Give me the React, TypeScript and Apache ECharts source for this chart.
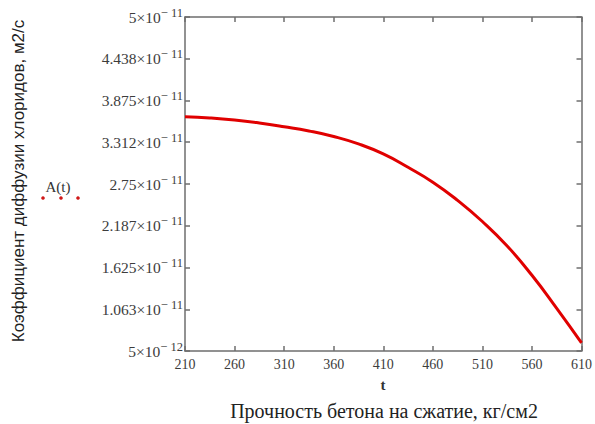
import React, { useEffect, useRef } from "react";
import * as echarts from "echarts";

// Compressive strength of concrete, kg/cm2
const strength = [210, 235, 260, 285, 310, 335, 360, 385, 410, 435, 460, 485, 510, 535, 560, 585, 610];
// Chloride diffusion coefficient A(t), m2/s
const diffusion = [
  3.657e-11, 3.64e-11, 3.612e-11, 3.572e-11, 3.522e-11, 3.465e-11, 3.39e-11, 3.29e-11, 3.155e-11,
  2.975e-11, 2.775e-11, 2.53e-11, 2.245e-11, 1.915e-11, 1.52e-11, 1.075e-11, 0.61e-11,
];

const xTicks = [210, 260, 310, 360, 410, 460, 510, 560, 610];
const yTicks = [5e-12, 1.0625e-11, 1.625e-11, 2.1875e-11, 2.75e-11, 3.3125e-11, 3.875e-11, 4.4375e-11, 5e-11];
const yTickMantissas = ["5", "1.063", "1.625", "2.187", "2.75", "3.312", "3.875", "4.438", "5"];
const yTickExponents = ["12", "11", "11", "11", "11", "11", "11", "11", "11"];

const FRAME = "#6e6e6e";
const LABEL = "#3c3c3c";
const SERIF = "'Liberation Serif', 'DejaVu Serif', serif";
const SANS = "'Liberation Sans', Arial, sans-serif";

function yLabel(v: number): string {
  let best = 0;
  for (let i = 1; i < yTicks.length; i++) {
    if (Math.abs(yTicks[i] - v) < Math.abs(yTicks[best] - v)) best = i;
  }
  return `{m|${yTickMantissas[best]}×10}{e|− ${yTickExponents[best]}}`;
}

export default function App() {
  const ref = useRef<HTMLDivElement>(null);

  useEffect(() => {
    if (!ref.current) return;
    const chart = echarts.init(ref.current, null, { renderer: "svg" });

    const tickStyle = { show: true, inside: true, length: 5, lineStyle: { color: FRAME, width: 1.5 } };
    const lineStyle = { color: FRAME, width: 1.5 };

    chart.setOption({
      animation: false,
      backgroundColor: "#ffffff",
      grid: { left: 185, right: 13, top: 17, bottom: 73 },
      xAxis: [
        {
          type: "value",
          min: 210,
          max: 610,
          position: "bottom",
          axisLine: { show: true, onZero: false, lineStyle },
          axisTick: { ...tickStyle, customValues: xTicks },
          axisLabel: {
            customValues: xTicks,
            margin: 6,
            color: LABEL,
            fontFamily: SERIF,
            fontSize: 14,
          },
          splitLine: { show: false },
        },
        {
          type: "value",
          min: 210,
          max: 610,
          position: "top",
          axisLine: { show: true, onZero: false, lineStyle },
          axisTick: { ...tickStyle, customValues: xTicks },
          axisLabel: { show: false },
          splitLine: { show: false },
        },
      ],
      yAxis: [
        {
          type: "value",
          min: 5e-12,
          max: 5e-11,
          position: "left",
          axisLine: { show: true, onZero: false, lineStyle },
          axisTick: { ...tickStyle, customValues: yTicks },
          axisLabel: {
            customValues: yTicks,
            margin: 2,
            formatter: yLabel,
            rich: {
              m: { fontFamily: SERIF, fontSize: 15.5, color: LABEL },
              e: { fontFamily: SERIF, fontSize: 12.5, color: LABEL, padding: [0, 0, 9, 0] },
            },
          },
          splitLine: { show: false },
        },
        {
          type: "value",
          min: 5e-12,
          max: 5e-11,
          position: "right",
          axisLine: { show: true, onZero: false, lineStyle },
          axisTick: { ...tickStyle, customValues: yTicks },
          axisLabel: { show: false },
          splitLine: { show: false },
        },
      ],
      series: [
        {
          type: "line",
          xAxisIndex: 0,
          yAxisIndex: 0,
          data: strength.map((s, i) => [s, diffusion[i]]),
          smooth: 0.5,
          showSymbol: false,
          lineStyle: { color: "#e00000", width: 3 },
        },
      ],
      graphic: [
        {
          type: "text",
          x: 18,
          y: 181,
          rotation: Math.PI / 2,
          style: {
            text: "Коэффициент диффузии хлоридов, м2/с",
            font: `17px ${SANS}`,
            fill: "#222",
            align: "center",
            verticalAlign: "middle",
          },
        },
        {
          type: "text",
          x: 58,
          y: 187,
          style: {
            text: "A(t)",
            font: `15px ${SERIF}`,
            fill: "#333",
            align: "center",
            verticalAlign: "middle",
          },
        },
        { type: "circle", shape: { cx: 43, cy: 198, r: 1.8 }, style: { fill: "#d01818" } },
        { type: "circle", shape: { cx: 61, cy: 198, r: 1.8 }, style: { fill: "#d01818" } },
        { type: "circle", shape: { cx: 78, cy: 198, r: 1.8 }, style: { fill: "#d01818" } },
        {
          type: "text",
          x: 383,
          y: 385,
          style: {
            text: "t",
            font: `bold 15px ${SERIF}`,
            fill: "#333",
            align: "center",
            verticalAlign: "middle",
          },
        },
        {
          type: "text",
          x: 384,
          y: 411,
          style: {
            text: "Прочность бетона на сжатие, кг/см2",
            font: `20px ${SERIF}`,
            fill: "#222",
            align: "center",
            verticalAlign: "middle",
          },
        },
      ],
    });

    return () => chart.dispose();
  }, []);

  return (
    <div
      ref={ref}
      style={{ position: "fixed", left: 0, top: 0, width: 595, height: 424, background: "#fff" }}
    />
  );
}
